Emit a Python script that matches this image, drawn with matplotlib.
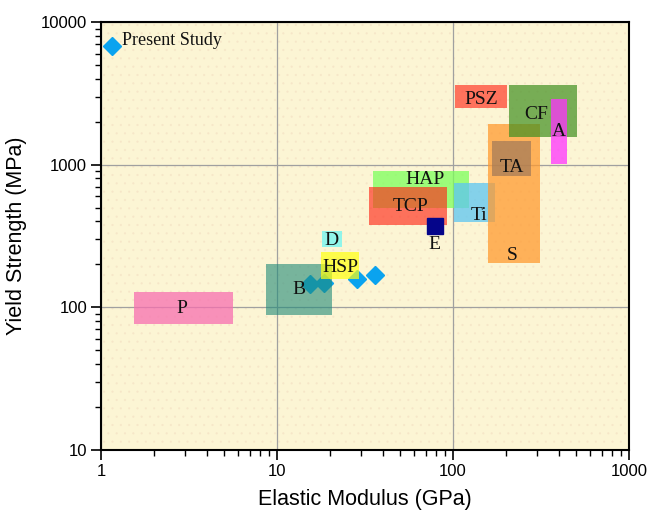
import matplotlib
matplotlib.use("Agg")
import matplotlib.pyplot as plt
from matplotlib.patches import Rectangle

# Material regions: name, E range (GPa), yield strength range (MPa)
names = ["P", "B", "D", "HSP", "HAP", "TCP", "Ti", "PSZ", "S", "TA", "CF", "A"]
e_low = [1.53, 8.7, 18.0, 17.8, 35.0, 33.3, 101, 102, 158, 167, 207, 360]
e_high = [5.64, 20.6, 23.3, 29.4, 124, 93, 174, 203, 311, 277, 506, 444]
s_low = [76, 88, 266, 157, 500, 378, 398, 2500, 205, 833, 1560, 1010]
s_high = [129, 200, 343, 244, 908, 694, 740, 3600, 1920, 1470, 3630, 2890]
colors = ["#f76fb0", "#1f8a78", "#7ff5ee", "#ffff10", "#7cff5c", "#ff2a1a",
          "#5cc6f2", "#ff3a2a", "#ff9a30", "#a07858", "#3f8f20", "#ff33ff"]
alphas = [0.75, 0.6, 0.85, 0.7, 0.75, 0.65, 0.75, 0.7, 0.75, 0.7, 0.7, 0.75]
label_x = [2.89, 13.4, 20.5, 23.0, 69.6, 57.7, 140.6, 145.6, 215.6, 215.6, 295, 400]
label_y = [98, 134, 296, 190, 790, 505, 437, 2870, 231, 960, 2255, 1695]

# Present study points
study_e = [1.15, 15.5, 18.5, 28.6, 36.2]
study_s = [6800, 146, 147, 157, 168]

# Reference point E
pt_e = [78.7]
pt_s = [370]
pt_label_y = [274]

plt.rcParams['font.family'] = ['Liberation Sans', 'DejaVu Sans']
plt.rcParams['hatch.linewidth'] = 0.3
fig = plt.figure(figsize=(6.51, 5.14), dpi=100)
ax = fig.add_axes([101/651, 1-450/514, 528/651, 428/514])
ax.set_xscale("log")
ax.set_yscale("log")
ax.set_xlim(1, 1000)
ax.set_ylim(10, 10000)

ax.set_facecolor("#fcf5d4")
bg = Rectangle((0, 0), 1, 1, transform=ax.transAxes, facecolor="none",
               edgecolor="#f6e6c8", hatch="..", linewidth=0, zorder=0)
ax.add_patch(bg)

ax.grid(True, which="major", color="#a0a0a0", linewidth=0.9, zorder=0.5)
ax.set_axisbelow(True)

# diamonds sit beneath the translucent regions, as in the reference
ax.plot(study_e, study_s, linestyle="none", marker="D", markersize=9,
        color="#0aa3ef", zorder=1.5)

for i in range(len(names)):
    r = Rectangle((e_low[i], s_low[i]), e_high[i]-e_low[i], s_high[i]-s_low[i],
                  facecolor=colors[i], alpha=alphas[i], edgecolor="none", zorder=2)
    ax.add_patch(r)

ax.plot(pt_e, pt_s, linestyle="none", marker="s", markersize=11,
        color="#05058a", zorder=4)

serif = ['Liberation Serif', 'DejaVu Serif']
for i in range(len(names)):
    ax.text(label_x[i], label_y[i], names[i], ha="center", va="center",
            family=serif, fontsize=14, zorder=5, color="#111111")
ax.text(pt_e[0], pt_label_y[0], "E", ha="center", va="center", family=serif,
        fontsize=14, zorder=5, color="#111111")
ax.text(1.32, 7400, "Present Study", ha="left", va="center", family=serif,
        fontsize=13, zorder=5, color="#111111")

ax.set_xlabel("Elastic Modulus (GPa)", fontsize=15.5, labelpad=7)
ax.set_ylabel("Yield Strength (MPa)", fontsize=15.5, labelpad=10)
ax.set_xticks([1, 10, 100, 1000])
ax.set_xticklabels(["1", "10", "100", "1000"])
ax.set_yticks([10, 100, 1000, 10000])
ax.set_yticklabels(["10", "100", "1000", "10000"])
ax.tick_params(axis="both", which="major", labelsize=12, length=7, width=1.2,
               direction="out", pad=3)
ax.tick_params(axis="both", which="minor", length=4, width=1.0, direction="out")
for s in ax.spines.values():
    s.set_linewidth(1.5)

fig.savefig("out.png", dpi=100)
